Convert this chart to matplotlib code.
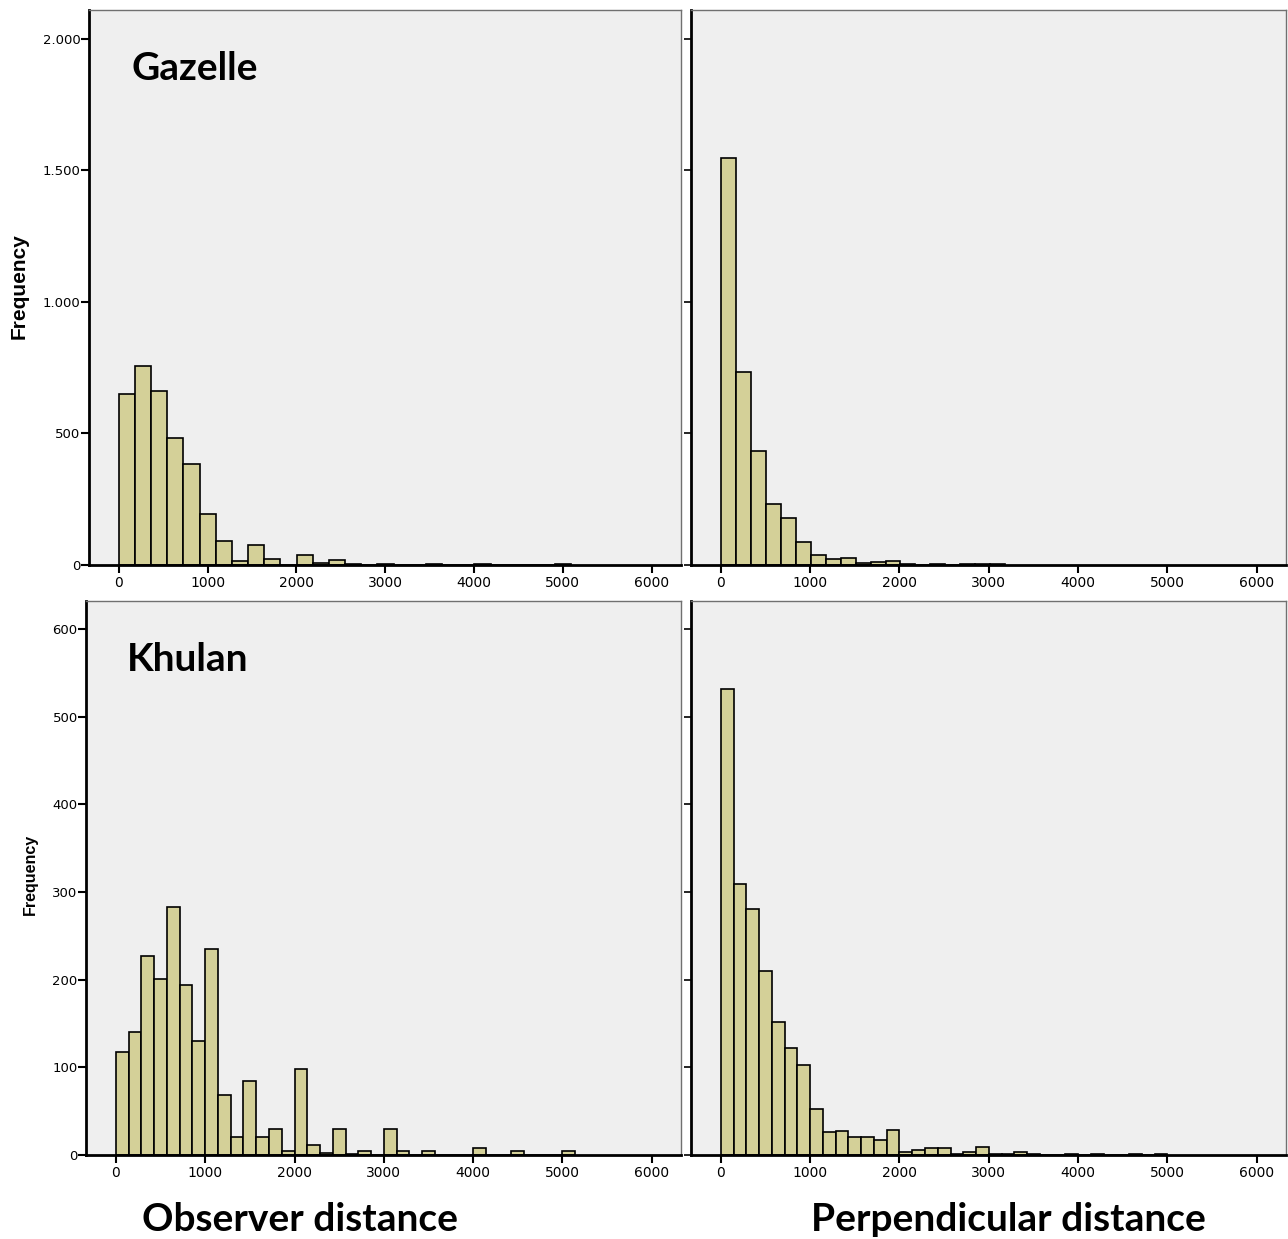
import matplotlib.pyplot as plt
from matplotlib.ticker import FuncFormatter
import numpy as np

# bin widths (distance units)
GAZ_OBS_WIDTH = 182
GAZ_PERP_WIDTH = 167.6
KHU_OBS_WIDTH = 142.86
KHU_PERP_WIDTH = 142.86

# counts per bin, starting at 0
gaz_obs = [650, 757, 663, 482, 384, 194, 90, 14, 75, 24, 0, 38, 8, 20, 2,
           0, 3, 0, 0, 3, 0, 0, 3, 0, 0, 0, 0, 3]
gaz_perp = [1548, 733, 433, 232, 177, 88, 37, 23, 25, 9, 11, 16, 4, 0, 4,
            0, 4, 4, 4]
khu_obs = [118, 140, 227, 201, 283, 194, 130, 235, 68, 21, 84, 20, 30, 5, 98,
           11, 2, 30, 1, 5, 0, 30, 4, 0, 5, 0, 0, 0, 8, 0, 0, 5, 0, 0, 0, 5]
khu_perp = [532, 309, 281, 210, 152, 122, 103, 52, 26, 27, 21, 20, 17, 29, 3,
            6, 8, 8, 1, 3, 9, 1, 1, 3, 1, 0, 0, 1, 0, 1, 0, 0, 1, 0, 1]

x_ticks = [0, 1000, 2000, 3000, 4000, 5000, 6000]
gaz_yticks = [0, 500, 1000, 1500, 2000]
khu_yticks = [0, 100, 200, 300, 400, 500, 600]

BAR_COLOR = '#d4d098'
BG = '#efefef'


def thousands(v, pos):
    return '{:,.0f}'.format(v).replace(',', '.')


def draw_panel(ax, counts, width, yticks, ymax, show_labels):
    edges = np.arange(len(counts)) * width
    ax.bar(edges, counts, width=width, align='edge', color=BAR_COLOR,
           edgecolor='black', linewidth=1.2, zorder=2)
    ax.set_facecolor(BG)
    ax.set_xlim(-335, 6330)
    ax.set_ylim(0, ymax)
    ax.set_xticks(x_ticks)
    ax.set_yticks(yticks)
    ax.tick_params(axis='x', direction='out', length=6, width=1.5,
                   labelsize=10, pad=2)
    if show_labels:
        ax.tick_params(axis='y', direction='out', length=6, width=1.5,
                       labelsize=9.5, pad=0)
    else:
        ax.tick_params(axis='y', direction='out', length=5, width=1.2,
                       labelleft=False)
    ax.yaxis.set_major_formatter(FuncFormatter(thousands))
    for s in ['left', 'bottom']:
        ax.spines[s].set_linewidth(2)
        ax.spines[s].set_color('black')
    for s in ['top', 'right']:
        ax.spines[s].set_linewidth(1)
        ax.spines[s].set_color('#707070')


fig = plt.figure(figsize=(12.88, 12.39), dpi=100)

ax1 = fig.add_axes([0.0691, 0.5440, 0.4596, 0.4479])
ax2 = fig.add_axes([0.5365, 0.5440, 0.4620, 0.4479])
ax3 = fig.add_axes([0.0668, 0.0678, 0.4620, 0.4471])
ax4 = fig.add_axes([0.5365, 0.0678, 0.4620, 0.4471])

draw_panel(ax1, gaz_obs, GAZ_OBS_WIDTH, gaz_yticks, 2110, True)
draw_panel(ax2, gaz_perp, GAZ_PERP_WIDTH, gaz_yticks, 2110, False)
draw_panel(ax3, khu_obs, KHU_OBS_WIDTH, khu_yticks, 632, True)
draw_panel(ax4, khu_perp, KHU_PERP_WIDTH, khu_yticks, 632, False)

ax1.text(0.071, 0.895, 'Gazelle', transform=ax1.transAxes, fontsize=28,
         fontweight='bold', family='Lato', va='center', ha='left')
ax3.text(0.069, 0.895, 'Khulan', transform=ax3.transAxes, fontsize=28,
         fontweight='bold', family='Lato', va='center', ha='left')

fig.text(0.0147, 0.769, 'Frequency', rotation=90, fontsize=15,
         fontweight='bold', family='Liberation Sans', ha='center', va='center')
fig.text(0.0233, 0.294, 'Frequency', rotation=90, fontsize=11.5,
         fontweight='bold', family='Liberation Sans', ha='center', va='center')

fig.text(0.233, 0.0155, 'Observer distance', fontsize=28, fontweight='bold',
         family='Lato', ha='center', va='center')
fig.text(0.783, 0.0155, 'Perpendicular distance', fontsize=28,
         fontweight='bold', family='Lato', ha='center', va='center')

plt.savefig('out.png', dpi=100, facecolor='white')
